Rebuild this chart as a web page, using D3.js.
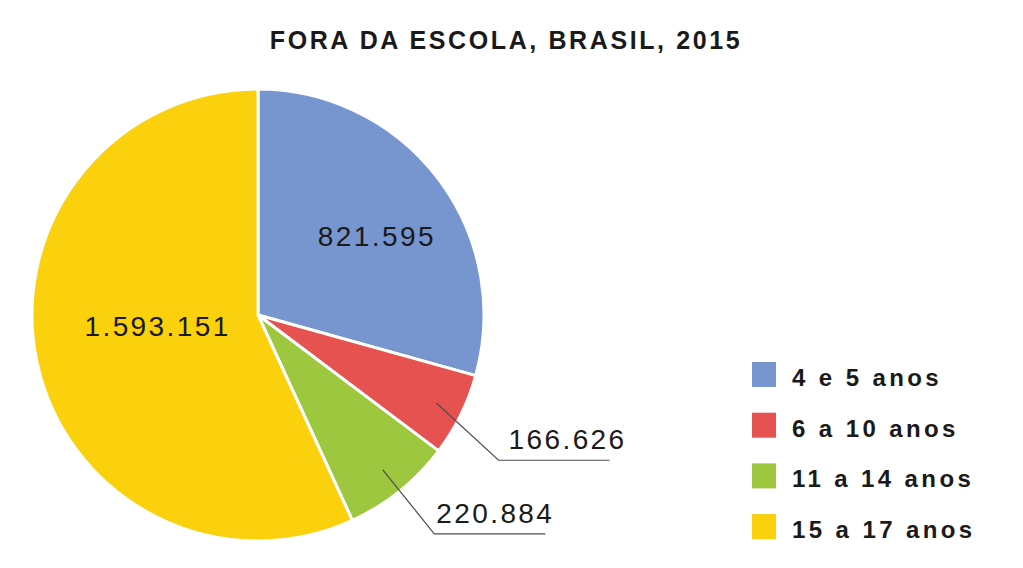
<!DOCTYPE html>
<html>
<head>
<meta charset="utf-8">
<script src="https://cdn.jsdelivr.net/npm/d3@7"></script>
<style>
  body { margin: 0; background: #fff; }
  svg { display: block; }
</style>
</head>
<body>
<script>
const categories = ['4 e 5 anos', '6 a 10 anos', '11 a 14 anos', '15 a 17 anos']
const values = [821595, 166626, 220884, 1593151]
const labels = ['821.595', '166.626', '220.884', '1.593.151']
const colors = ['#7795ce', '#e5524f', '#9dc73f', '#fbd00c']
// how each value label is placed: inside the slice or outside with a leader line
const labelMode = ['inside', 'outside', 'outside', 'inside']

const width = 1023
const height = 568
const cx = 258
const cy = 315
const radius = 226
const font = "'Liberation Sans', Arial, Helvetica, sans-serif"

const svg = d3.select('body').append('svg')
  .attr('width', width).attr('height', height)

svg.append('text')
  .attr('x', 506).attr('y', 49)
  .attr('text-anchor', 'middle')
  .attr('font-family', font)
  .attr('font-weight', 'bold')
  .attr('font-size', 25)
  .attr('letter-spacing', 2.6)
  .attr('fill', '#1a1a1a')
  .text('FORA DA ESCOLA, BRASIL, 2015')

const data = categories.map((c, i) => ({ name: c, value: values[i], label: labels[i], color: colors[i], mode: labelMode[i] }))

const pie = d3.pie().sort(null).value(d => d.value)
const arcs = pie(data)

const arc = d3.arc().innerRadius(0).outerRadius(radius)

const g = svg.append('g').attr('transform', `translate(${cx},${cy})`)

g.selectAll('path.slice')
  .data(arcs)
  .join('path')
  .attr('class', 'slice')
  .attr('d', arc)
  .attr('fill', d => d.data.color)
  .attr('stroke', '#fff')
  .attr('stroke-width', 3)
  .attr('stroke-linejoin', 'round')

const mid = d => (d.startAngle + d.endAngle) / 2

// inside labels: radius and small angle shift per slice
const insideR = { 0: 143, 3: 101 }
const insideShift = { 0: 0.06, 3: 0.11 }
g.selectAll('text.inside')
  .data(arcs.filter(d => d.data.mode === 'inside'))
  .join('text')
  .attr('class', 'inside')
  .attr('transform', d => {
    const [x, y] = d3.pointRadial(mid(d) + insideShift[d.index], insideR[d.index])
    return `translate(${x},${y})`
  })
  .attr('text-anchor', 'middle')
  .attr('dy', '0.36em')
  .attr('font-family', font)
  .attr('font-size', 28)
  .attr('letter-spacing', 2.4)
  .attr('fill', '#1a1a1a')
  .text(d => d.data.label)

// outside labels with leader lines
const outside = arcs.filter(d => d.data.mode === 'outside')
const bendShift = { 1: 0.085, 2: 0 }
const textShift = { 1: 10, 2: 2 }
const lineLen = 111

outside.forEach(d => {
  const p0 = d3.pointRadial(mid(d), radius * 0.88)
  const p1 = d3.pointRadial(mid(d) + bendShift[d.index], 281)
  const p2 = [p1[0] + lineLen, p1[1]]
  g.append('polyline')
    .attr('points', [p0, p1, p2].map(p => p.join(',')).join(' '))
    .attr('fill', 'none')
    .attr('stroke', '#4d4d4d')
    .attr('stroke-width', 1.2)
  g.append('text')
    .attr('x', p1[0] + textShift[d.index])
    .attr('y', p1[1] - 11)
    .attr('font-family', font)
    .attr('font-size', 28)
    .attr('letter-spacing', 2.4)
    .attr('fill', '#1a1a1a')
    .text(d.data.label)
})

// legend
const legend = svg.append('g').attr('transform', 'translate(752,362)')
const row = legend.selectAll('g.row')
  .data(data)
  .join('g')
  .attr('class', 'row')
  .attr('transform', (d, i) => `translate(0,${i * 50.7})`)

row.append('rect')
  .attr('width', 24).attr('height', 25)
  .attr('fill', d => d.color)

row.append('text')
  .attr('x', 40).attr('y', 24)
  .attr('font-family', font)
  .attr('font-weight', 'bold')
  .attr('font-size', 24)
  .attr('letter-spacing', 3.4)
  .attr('fill', '#1a1a1a')
  .text(d => d.name)
</script>
</body>
</html>
